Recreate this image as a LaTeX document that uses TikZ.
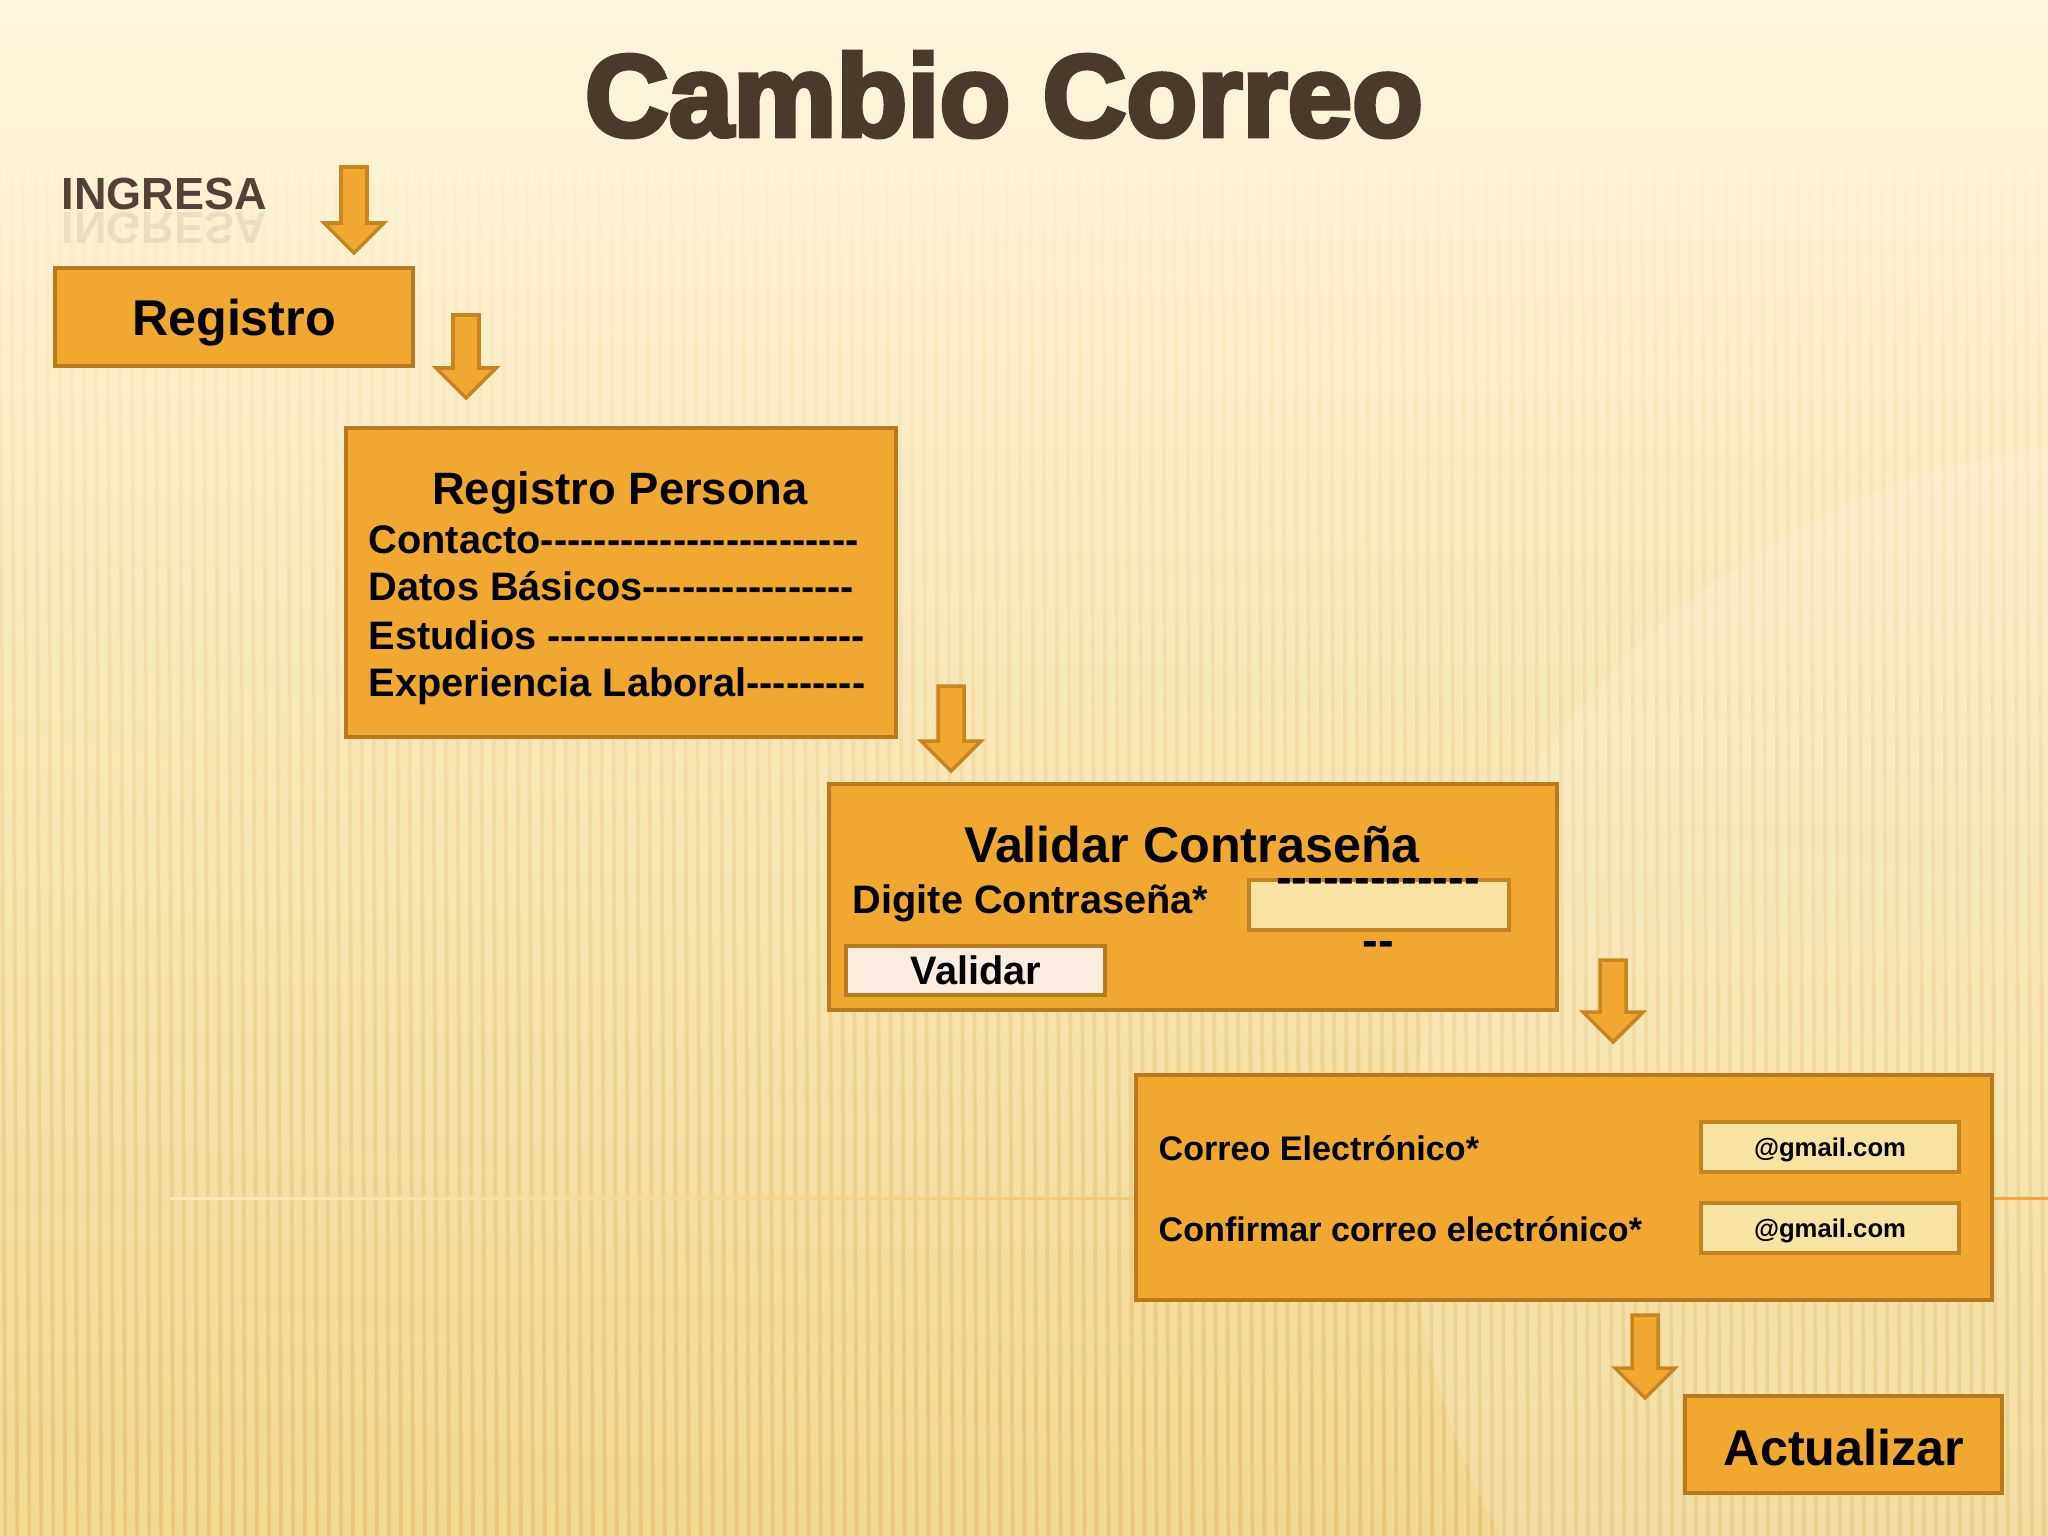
\documentclass[tikz,border=0pt]{standalone}
\usepackage{fontspec}
\setmainfont{Liberation Sans}
\newfontfamily\titlefont[BoldFeatures={FakeBold=4}]{Liberation Sans}
\usetikzlibrary{calc,fit,fadings}
\definecolor{boxfill}{HTML}{F0A830}
\definecolor{boxline}{HTML}{B97A1F}
\definecolor{arrline}{HTML}{C88420}
\definecolor{titlecol}{HTML}{4A3A2C}
\definecolor{ingcol}{HTML}{4F4237}
\definecolor{fieldfill}{HTML}{F8E3A3}
\definecolor{btnfill}{HTML}{FBEEE1}
\definecolor{bgtop}{HTML}{FEF5DB}
\definecolor{bgmid}{HTML}{FBEAB8}
\definecolor{bgbot}{HTML}{F3D891}
\definecolor{stripe}{HTML}{D9AE58}
\newcommand\hyp{-\kern0pt}
\newcommand\dashrun[1]{\foreach \k in {1,...,#1}{\hyp}}
\newcommand\bkarrow[2]{\draw[blockarrow] ($(#1)+(-13,0)$) -- ($(#2)+(-13,-30)$) -- ($(#2)+(-30,-30)$) -- (#2) -- ($(#2)+(30,-30)$) -- ($(#2)+(13,-30)$) -- ($(#1)+(13,0)$) -- cycle;}
\tikzset{
 box/.style={draw=boxline, fill=boxfill, line width=1.1pt, inner sep=0pt},
 field/.style={draw=boxline!80!boxfill, fill=fieldfill, line width=1.4pt, inner sep=0pt},
 btn/.style={draw=boxline, fill=btnfill, line width=1.4pt, inner sep=0pt},
 blockarrow/.style={draw=arrline, fill=boxfill, line width=1pt, line join=miter},
 bigtxt/.style={font=\bfseries\fontsize{14.3}{17}\selectfont, text=black, inner sep=0pt},
 hdtxt/.style={font=\bfseries\fontsize{12.9}{15}\selectfont, text=black, inner sep=0pt},
 midtxt/.style={font=\bfseries\fontsize{11.3}{13}\selectfont, text=black, inner sep=0pt},
 smalltxt/.style={font=\bfseries\fontsize{9.7}{12}\selectfont, text=black, inner sep=0pt},
 tinytxt/.style={font=\bfseries\fontsize{7.3}{9}\selectfont, text=black, inner sep=0pt},
}
\begin{document}
\begin{tikzpicture}[x=0.01cm,y=-0.01cm]
\useasboundingbox (0,0) rectangle (2048,1536);
% background
\shade[top color=bgtop, middle color=bgmid, bottom color=bgbot] (0,0) rectangle (2048,1536);
\draw[stripe, line width=1.1pt, opacity=0.38, path fading=north]
  \foreach \i in {0,...,171}{(\i*12,120) -- (\i*12+6,1536)};
\fill[white, opacity=0.14] (2150,1180) circle (7.4cm);
\shade[left color=bgmid, right color=boxfill] (170,1197) rectangle (2048,1199.5);
% title
\node[anchor=base, font=\titlefont\bfseries\fontsize{33}{38}\selectfont, text=titlecol, inner sep=0] (title) at (1004,136) {Cambio Correo};
\node[anchor=base west, font=\bfseries\fontsize{12.8}{15}\selectfont, text=ingcol, inner sep=0] (ing) at (61,209) {INGRESA};
\node[anchor=base west, font=\bfseries\fontsize{12.8}{15}\selectfont, text=ingcol, inner sep=0, yscale=-1, transform shape, opacity=0.1] (ingr) at (61,212) {INGRESA};
% Registro
\node[box, fit={(55,268) (413,366)}] (reg) {};
\node[bigtxt, anchor=base] (regt) at (234,335) {Registro};
% Registro Persona
\node[box, fit={(346,428) (896,737)}] (rp) {};
\node[hdtxt, anchor=base] (rpt) at (620,504) {Registro Persona};
\node[midtxt, anchor=base west] (l1) at (368,553) {Contacto\dashrun{24}};
\node[midtxt, anchor=base west] (l2) at (368,600) {Datos Básicos\dashrun{16}};
\node[midtxt, anchor=base west] (l3) at (368,649) {Estudios \dashrun{24}};
\node[midtxt, anchor=base west] (l4) at (368,696) {Experiencia Laboral\dashrun{9}};
% Validar Contraseña
\node[box, fit={(829,784) (1557,1010)}] (val) {};
\node[bigtxt, anchor=base] (valt) at (1192,862) {Validar Contraseña};
\node[midtxt, anchor=base west] (dig) at (852,913) {Digite Contraseña*};
\node[field, fit={(1249,880) (1509,930)}] (pw) {};
\node[font=\bfseries\fontsize{13.4}{16}\selectfont, anchor=base, inner sep=0] (d1) at (1378,893) {\dashrun{13}};
\node[font=\bfseries\fontsize{13.4}{16}\selectfont, anchor=base, inner sep=0] (d2) at (1378,956) {\dashrun{2}};
\node[btn, fit={(846,946) (1105,995)}] (vbtn) {};
\node[midtxt, anchor=base] (vbt) at (976,984) {Validar};
% Correo
\node[box, fit={(1136,1075) (1992,1300)}] (cor) {};
\node[smalltxt, anchor=base west] (c1) at (1158,1160) {Correo Electrónico*};
\node[smalltxt, anchor=base west] (c2) at (1158,1241) {Confirmar correo electrónico*};
\node[field, fit={(1701,1122) (1959,1172)}] (g1) {};
\node[tinytxt, anchor=base] (g1t) at (1830,1156) {@gmail.com};
\node[field, fit={(1701,1203) (1959,1253)}] (g2) {};
\node[tinytxt, anchor=base] (g2t) at (1830,1237) {@gmail.com};
% Actualizar
\node[box, fit={(1685,1396) (2002,1493)}] (act) {};
\node[bigtxt, anchor=base] (actt) at (1844,1465) {Actualizar};
% arrows
\coordinate (a1s) at (354,167); \coordinate (a1e) at (354,253);
\coordinate (a2s) at (466,315); \coordinate (a2e) at (466,398);
\coordinate (a3s) at (951,686); \coordinate (a3e) at (951,771);
\coordinate (a4s) at (1613,960); \coordinate (a4e) at (1613,1042);
\coordinate (a5s) at (1645,1315); \coordinate (a5e) at (1645,1398);
\bkarrow{a1s}{a1e}
\bkarrow{a2s}{a2e}
\bkarrow{a3s}{a3e}
\bkarrow{a4s}{a4e}
\bkarrow{a5s}{a5e}
\end{tikzpicture}
\end{document}
